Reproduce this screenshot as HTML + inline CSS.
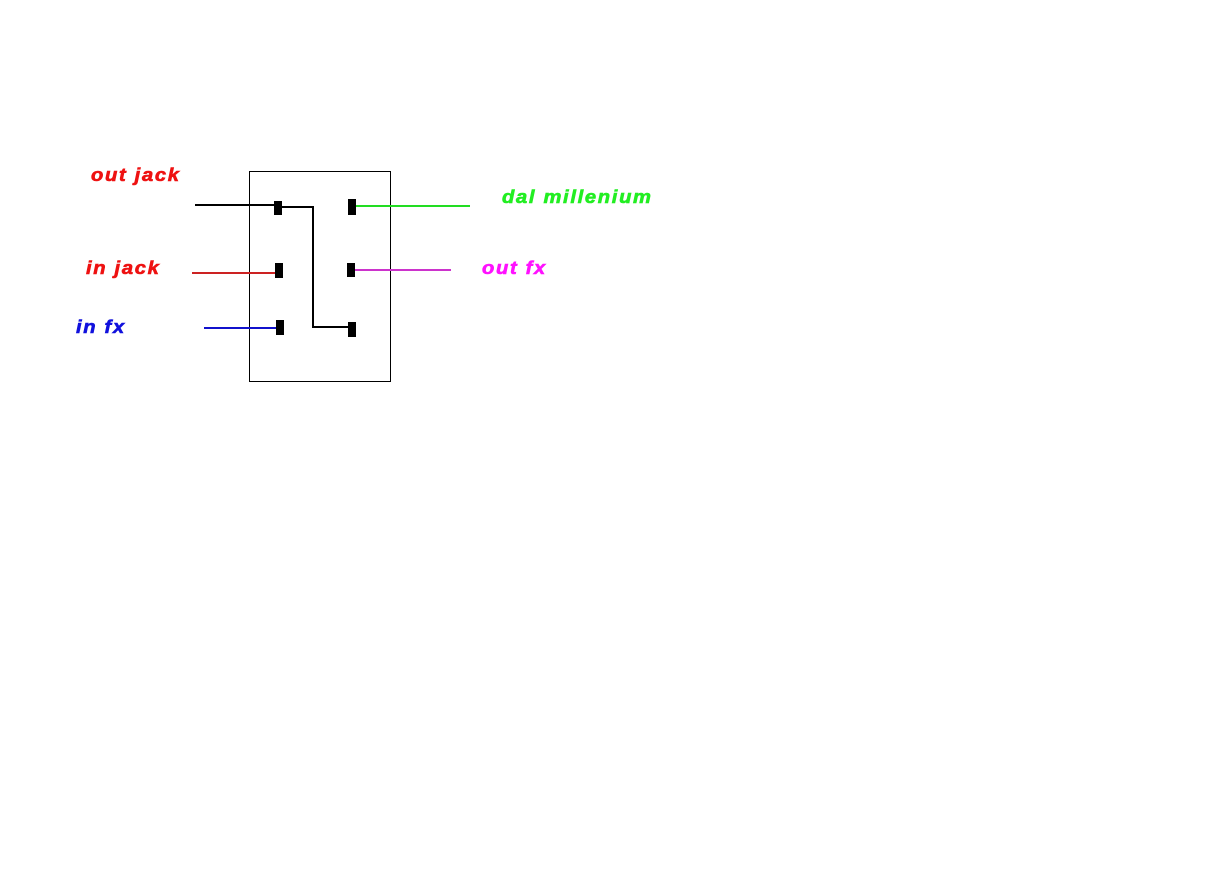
<!DOCTYPE html>
<html><head><style>
body{margin:0;background:#fff;width:1209px;height:895px;overflow:hidden;position:relative}
.t{position:absolute;font-family:"Liberation Sans",sans-serif;font-weight:bold;font-style:italic;font-size:18px;letter-spacing:1.5px;line-height:1;transform:scaleX(1.12);transform-origin:left top;-webkit-text-stroke:0.6px currentColor;white-space:nowrap}
</style></head><body>
<svg width="1209" height="895" style="position:absolute;left:0;top:0">
<rect x="249.5" y="171.5" width="141" height="210" fill="none" stroke="#000" stroke-width="1"/>
<g stroke-width="2" fill="none">
<line x1="195" y1="205" x2="276" y2="205" stroke="#000"/>
<polyline points="282,207 313,207 313,327 348,327" stroke="#000"/>
<line x1="355" y1="206" x2="470" y2="206" stroke="#22dd22"/>
<line x1="192" y1="273" x2="277" y2="273" stroke="#cc2222"/>
<line x1="352" y1="270" x2="451" y2="270" stroke="#cc33cc"/>
<line x1="204" y1="328" x2="277" y2="328" stroke="#1111cc"/>
</g>
<g fill="#000">
<rect x="274" y="201" width="8" height="14"/>
<rect x="348" y="199" width="8" height="16"/>
<rect x="275" y="263" width="8" height="15"/>
<rect x="347" y="263" width="8" height="14"/>
<rect x="276" y="320" width="8" height="15"/>
<rect x="348" y="322" width="8" height="15"/>
</g>
</svg>
<div class="t" style="left:91px;top:166px;color:#ee1111">out jack</div>
<div class="t" style="left:86px;top:259px;color:#ee1111">in jack</div>
<div class="t" style="left:76px;top:318px;color:#1111dd">in fx</div>
<div class="t" style="left:502px;top:188px;color:#22ee22">dal millenium</div>
<div class="t" style="left:482px;top:259px;color:#ff11ff">out fx</div>
</body></html>
